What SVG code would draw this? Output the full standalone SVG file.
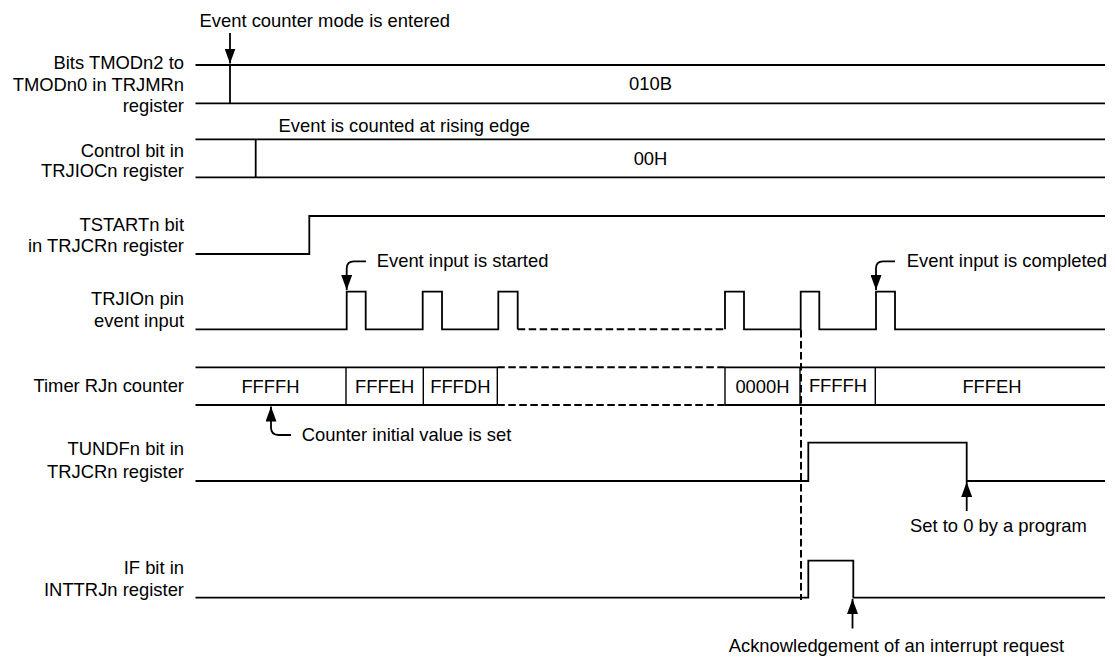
<svg xmlns="http://www.w3.org/2000/svg" width="1115" height="664" viewBox="0 0 1115 664">
<style>
text{font-family:"Liberation Sans",Arial,sans-serif;font-size:18.4px;fill:#000}
.lbl{text-anchor:end}
.mid{text-anchor:middle}
.w{fill:none;stroke:#000;stroke-width:1.8}
.dv{fill:none;stroke:#000;stroke-width:1.4}
.d{fill:none;stroke:#000;stroke-width:2;stroke-dasharray:7.5 3.5}
</style>
<defs>
<marker id="ah" viewBox="0 0 15 11" refX="15" refY="5.5" markerWidth="15" markerHeight="11" markerUnits="userSpaceOnUse" orient="auto">
<path d="M0,0 L15,5.5 L0,11 z" fill="#000"/>
</marker>
</defs>
<rect width="1115" height="664" fill="#fff"/>

<g id="tmod">
<text class="lbl" x="184" y="68.5">Bits TMODn2 to</text>
<text class="lbl" x="184" y="90.5">TMODn0 in TRJMRn</text>
<text class="lbl" x="184" y="112">register</text>
<path class="w" d="M195.5,65 H1105 M195.5,103.3 H1105 M230,65 V103.3"/>
<text class="mid" x="650.5" y="90">010B</text>
</g>

<g id="trjioc">
<text class="lbl" x="184" y="156.5">Control bit in</text>
<text class="lbl" x="184" y="177">TRJIOCn register</text>
<path class="w" d="M195.5,139.3 H1105 M195.5,177.3 H1105 M255.7,139.3 V177.3"/>
<text class="mid" x="650.5" y="165">00H</text>
</g>

<g id="tstart">
<text class="lbl" x="184" y="230.5">TSTARTn bit</text>
<text class="lbl" x="184" y="252">in TRJCRn register</text>
<path class="w" d="M195.5,254 H309.3 V216 H1105"/>
</g>

<g id="trjio">
<text class="lbl" x="184" y="305">TRJIOn pin</text>
<text class="lbl" x="184" y="326.5">event input</text>
<path class="w" d="M195.5,329.3 H346.7 V291.7 H365.7 V329.3 H422.7 V291.7 H442 V329.3 H498.3 V291.7 H517.7 V329.3"/>
<path class="d" d="M517.7,329.3 H725"/>
<path class="w" d="M725,329.3 V291.7 H744 V329.3 H800.7 V291.7 H819.3 V329.3 H876 V291.7 H895 V329.3 H1105"/>
</g>

<g id="counter">
<text class="lbl" x="184" y="392">Timer RJn counter</text>
<path class="w" d="M195.5,367.3 H497.3 M195.5,405 H497.3 M725,367.3 H1105 M725,405 H1105"/>
<path class="d" d="M497.3,367.3 H725 M497.3,405 H725"/>
<path class="dv" d="M346,367.3 V405 M423.3,367.3 V405 M497.3,367.3 V405 M725,367.3 V405 M800,367.3 V405 M875.3,367.3 V405"/>
<text class="mid" x="270.5" y="392.5">FFFFH</text>
<text class="mid" x="384.6" y="392.5">FFFEH</text>
<text class="mid" x="460.3" y="392.5">FFFDH</text>
<text class="mid" x="762.5" y="393">0000H</text>
<text class="mid" x="838" y="392">FFFFH</text>
<text class="mid" x="992" y="392.5">FFFEH</text>
</g>

<g id="tundf">
<text class="lbl" x="184" y="455">TUNDFn bit in</text>
<text class="lbl" x="184" y="478.3">TRJCRn register</text>
<path class="w" d="M195.5,481 H808.3 V442.7 H966.7 V481 H1105"/>
</g>

<g id="if">
<text class="lbl" x="184" y="574">IF bit in</text>
<text class="lbl" x="184" y="595.5">INTTRJn register</text>
<path class="w" d="M195.5,597.7 H808.3 V560.7 H853.3 V597.7 H1105"/>
</g>

<g id="connectors">
<path class="w" d="M230,33 V63.5" marker-end="url(#ah)"/>
<path class="w" d="M366,261.3 H354 Q346.7,261.3 346.7,268.5 V290" marker-end="url(#ah)"/>
<path class="w" d="M895,261.3 H883 Q876,261.3 876,268.5 V290" marker-end="url(#ah)"/>
<path class="w" d="M291,435 H278.5 Q271,435 271,427.5 V406.5" marker-end="url(#ah)"/>
<path class="w" d="M966.7,511 V482" marker-end="url(#ah)"/>
<path class="w" d="M852.5,628.5 V599" marker-end="url(#ah)"/>
<path class="d" d="M801,330 V600"/>
</g>

<g id="notes">
<text x="199.5" y="27">Event counter mode is entered</text>
<text x="278.5" y="132">Event is counted at rising edge</text>
<text x="376.7" y="267">Event input is started</text>
<text x="906.7" y="267">Event input is completed</text>
<text x="301.8" y="440.7">Counter initial value is set</text>
<text x="910" y="531.7">Set to 0 by a program</text>
<text x="1064" y="651.7" text-anchor="end">Acknowledgement of an interrupt request</text>
</g>
</svg>
